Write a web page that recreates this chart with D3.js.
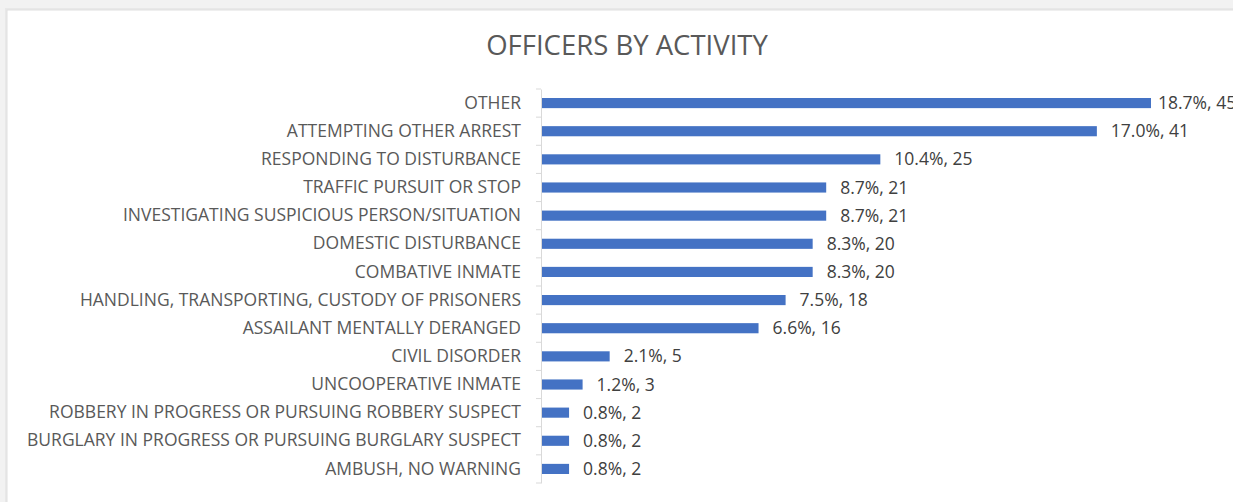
<!DOCTYPE html>
<html>
<head>
<meta charset="utf-8">
<script src="https://cdn.jsdelivr.net/npm/d3@7"></script>
<style>
  body { margin: 0; background: #f2f2f2; }
  svg { display: block; }
  text { font-family: "Open Sans", "Liberation Sans", sans-serif; }
</style>
</head>
<body>
<svg id="chart" width="1233" height="502"></svg>
<script>
// chart values
let activities = [
    "OTHER",
    "ATTEMPTING OTHER ARREST",
    "RESPONDING TO DISTURBANCE",
    "TRAFFIC PURSUIT OR STOP",
    "INVESTIGATING SUSPICIOUS PERSON/SITUATION",
    "DOMESTIC DISTURBANCE",
    "COMBATIVE INMATE",
    "HANDLING, TRANSPORTING, CUSTODY OF PRISONERS",
    "ASSAILANT MENTALLY DERANGED",
    "CIVIL DISORDER",
    "UNCOOPERATIVE INMATE",
    "ROBBERY IN PROGRESS OR PURSUING ROBBERY SUSPECT",
    "BURGLARY IN PROGRESS OR PURSUING BURGLARY SUSPECT",
    "AMBUSH, NO WARNING"
];
let officers = [45, 41, 25, 21, 21, 20, 20, 18, 16, 5, 3, 2, 2, 2];
let shares = ["18.7%", "17.0%", "10.4%", "8.7%", "8.7%", "8.3%", "8.3%", "7.5%", "6.6%", "2.1%", "1.2%", "0.8%", "0.8%", "0.8%"];
let chart_title = "OFFICERS BY ACTIVITY";

function draw(el) {
    let svg = d3.select(el),
        W = +svg.attr("width"),
        H = +svg.attr("height"),
        margin = {top: 89, right: 82, bottom: 19, left: 541};

    let rows = activities.map((a, i) => ({name: a, n: officers[i], pct: shares[i]}));

    // card with a soft edge
    svg.append("rect").attr("x", 5).attr("y", 8).attr("width", W).attr("height", H)
       .attr("fill", "#e8e8e8");
    svg.append("rect").attr("x", 7).attr("y", 10).attr("width", W).attr("height", H)
       .attr("fill", "#fff").attr("stroke", "#e0e0e0");

    let x = d3.scaleLinear()
              .domain([0, d3.max(officers)])
              .range([margin.left + 1, W - margin.right]);
    let y = d3.scaleBand()
              .domain(activities)
              .range([margin.top, H - margin.bottom])
              .paddingInner(0.64)
              .paddingOuter(0.32);

    svg.append("text")
       .attr("x", 627).attr("y", 55)
       .attr("text-anchor", "middle")
       .attr("font-size", 27.5)
       .attr("fill", "#595959")
       .text(chart_title);

    // category axis
    let yAxis = svg.append("g")
                   .attr("transform", `translate(${margin.left},0)`)
                   .call(d3.axisLeft(y).tickSize(0).tickPadding(20));
    yAxis.select(".domain").attr("stroke", "#d9d9d9");
    yAxis.selectAll("text").attr("font-size", 17.5).attr("fill", "#595959")
         .attr("font-family", "'Open Sans', sans-serif");

    let gap = y.step() * y.paddingInner() / 2;
    let bounds = activities.map(a => y(a) - gap).concat([y(activities[activities.length - 1]) + y.bandwidth() + gap]);
    yAxis.selectAll(".bound").data(bounds).enter().append("line")
         .attr("class", "bound")
         .attr("x1", -5).attr("x2", 0)
         .attr("y1", d => d).attr("y2", d => d)
         .attr("stroke", "#d9d9d9");

    svg.selectAll(".bar").data(rows).enter().append("rect")
       .attr("class", "bar")
       .attr("x", x(0))
       .attr("y", d => y(d.name))
       .attr("width", d => x(d.n) - x(0))
       .attr("height", y.bandwidth())
       .attr("fill", "#4472c4");

    // the top label sits closer to its bar so it fits the card
    svg.selectAll(".val").data(rows).enter().append("text")
       .attr("class", "val")
       .attr("x", (d, i) => x(d.n) + (i == 0 ? 7 : 14))
       .attr("y", d => y(d.name) + y.bandwidth() / 2)
       .attr("dy", "0.35em")
       .attr("font-size", 17.5)
       .attr("fill", "#404040")
       .text(d => `${d.pct}, ${d.n}`);
}

draw("#chart");
</script>
</body>
</html>
